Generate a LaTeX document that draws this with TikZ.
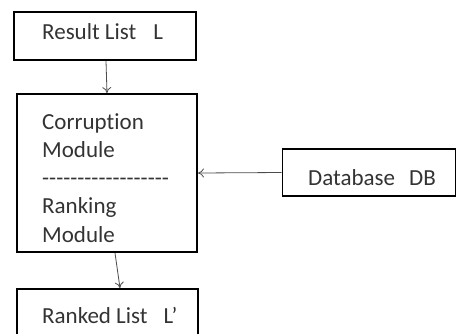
\documentclass[tikz,border=0pt]{standalone}
\usepackage{fontspec}
\setmainfont{Carlito}[Ligatures=NoCommon]
\usetikzlibrary{arrows.meta}
\definecolor{txt}{HTML}{333333}
\tikzset{
  box/.style={draw=black, line width=1.9pt, minimum width=#1, inner sep=0pt},
  lbl/.style={anchor=base west, inner sep=0pt, text=txt, font=\fontsize{23}{25}\selectfont},
  conn/.style={draw=black!70, line width=0.8pt, -{To[length=6pt,width=9pt]}},
}
\begin{document}
\begin{tikzpicture}[x=1pt,y=-1pt]
\useasboundingbox (0,0) rectangle (457,333);
\clip (0,0) rectangle (457,333);
\node[box=182pt, minimum height=48pt] (r) at (105,36) {};
\node[box=180pt, minimum height=158pt] (c) at (107,173) {};
\node[box=181pt, minimum height=60pt] (k) at (107.5,319) {};
\node[box=173pt, minimum height=47pt] (d) at (369,172.5) {};
\node[lbl] (t1) at (42,39) {Result List\hspace{17pt}L};
\node[lbl] (t2) at (42,129) {Corruption};
\node[lbl] (t3) at (42,157) {Module};
\node[lbl] (t4) at (42,185) {-{}-{}-{}-{}-{}-{}-{}-{}-{}-{}-{}-{}-{}-{}-{}-{}-{}-};
\node[lbl] (t5) at (42,213) {Ranking};
\node[lbl] (t6) at (42,242) {Module};
\node[lbl] (t7) at (308,185) {Database\hspace{14pt}DB};
\node[lbl] (t8) at (42,323) {Ranked List\hspace{16pt}L’};
\draw[conn] ([xshift=1pt]r.south) -- (c.north);
\draw[conn] ([xshift=8pt]c.south) -- ([xshift=12.5pt]k.north);
\draw[conn] (d.west) -- (c.east);
\end{tikzpicture}
\end{document}
